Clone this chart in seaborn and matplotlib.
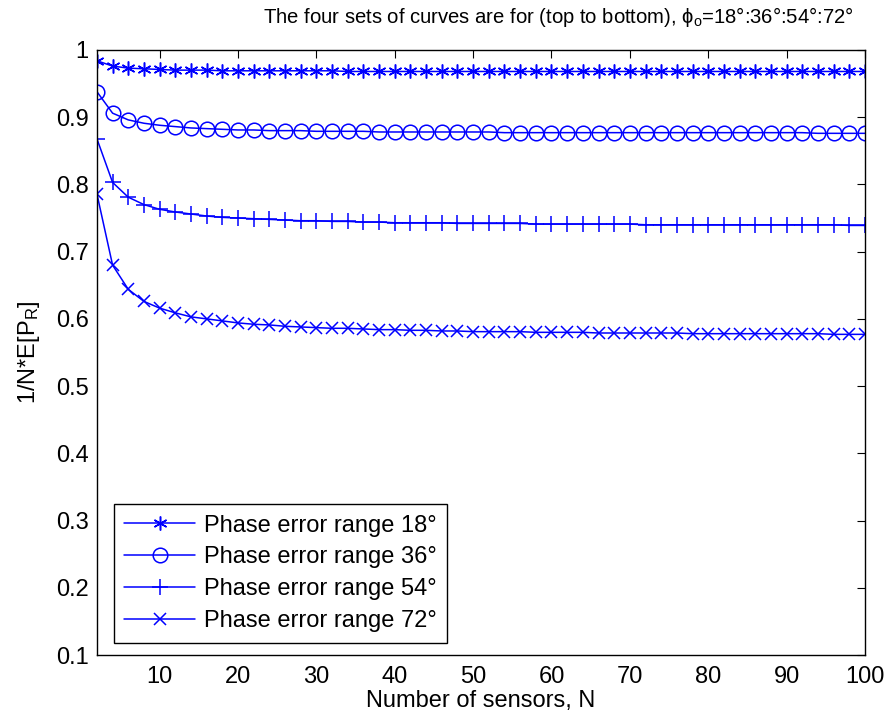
import matplotlib
matplotlib.use("Agg")
import matplotlib.pyplot as plt
import seaborn as sns
import pandas as pd

# Number of sensors N (even values 2..100)
sensors = list(range(2, 101, 2))

# Normalised expected received power 1/N*E[P_R] for each phase error range
power_18 = [0.984, 0.976, 0.973, 0.972, 0.971, 0.970, 0.970, 0.970, 0.969, 0.969,
            0.969, 0.969, 0.969, 0.969, 0.969, 0.969, 0.968, 0.968, 0.968, 0.968,
            0.968, 0.968, 0.968, 0.968, 0.968, 0.968, 0.968, 0.968, 0.968, 0.968,
            0.968, 0.968, 0.968, 0.968, 0.968, 0.968, 0.968, 0.968, 0.968, 0.968,
            0.968, 0.968, 0.968, 0.968, 0.968, 0.968, 0.968, 0.968, 0.968, 0.968]
power_36 = [0.938, 0.906, 0.896, 0.891, 0.888, 0.886, 0.884, 0.883, 0.882, 0.881,
            0.881, 0.880, 0.880, 0.880, 0.879, 0.879, 0.879, 0.879, 0.878, 0.878,
            0.878, 0.878, 0.878, 0.878, 0.878, 0.878, 0.877, 0.877, 0.877, 0.877,
            0.877, 0.877, 0.877, 0.877, 0.877, 0.877, 0.877, 0.877, 0.877, 0.877,
            0.877, 0.877, 0.877, 0.877, 0.877, 0.877, 0.876, 0.876, 0.876, 0.876]
power_54 = [0.868, 0.803, 0.781, 0.770, 0.763, 0.759, 0.756, 0.753, 0.751, 0.750,
            0.749, 0.748, 0.747, 0.746, 0.746, 0.745, 0.745, 0.744, 0.744, 0.743,
            0.743, 0.743, 0.743, 0.742, 0.742, 0.742, 0.742, 0.742, 0.741, 0.741,
            0.741, 0.741, 0.741, 0.741, 0.741, 0.740, 0.740, 0.740, 0.740, 0.740,
            0.740, 0.740, 0.740, 0.740, 0.740, 0.740, 0.740, 0.740, 0.739, 0.739]
power_72 = [0.786, 0.680, 0.644, 0.626, 0.616, 0.609, 0.603, 0.600, 0.597, 0.594,
            0.592, 0.591, 0.589, 0.588, 0.587, 0.586, 0.586, 0.585, 0.584, 0.584,
            0.583, 0.583, 0.582, 0.582, 0.581, 0.581, 0.581, 0.581, 0.580, 0.580,
            0.580, 0.580, 0.579, 0.579, 0.579, 0.579, 0.579, 0.579, 0.578, 0.578,
            0.578, 0.578, 0.578, 0.578, 0.578, 0.578, 0.578, 0.577, 0.577, 0.577]

series_labels = ["Phase error range 18°", "Phase error range 36°",
                 "Phase error range 54°", "Phase error range 72°"]
x_ticks = [10, 20, 30, 40, 50, 60, 70, 80, 90, 100]
y_ticks = [0.1, 0.2, 0.3, 0.4, 0.5, 0.6, 0.7, 0.8, 0.9, 1.0]
y_ticklabels = ["0.1", "0.2", "0.3", "0.4", "0.5", "0.6", "0.7", "0.8", "0.9", "1"]

sns.set_style("white")
plt.rcParams["font.family"] = ["Liberation Sans", "DejaVu Sans"]
plt.rcParams["mathtext.fontset"] = "custom"
plt.rcParams["mathtext.rm"] = "Liberation Sans"
plt.rcParams["mathtext.it"] = "Liberation Sans"
plt.rcParams["text.color"] = "black"
plt.rcParams["axes.labelcolor"] = "black"

FS = 17

fig = plt.figure(figsize=(8.89, 7.21), dpi=100)
ax = fig.add_axes([0.109, 0.0915, 0.864, 0.8392])

markers = [(6, 2, 0), "o", "+", "x"]
sizes = [10, 10.5, 12, 9]
for vals, lab, mk, ms in zip([power_18, power_36, power_54, power_72],
                             series_labels, markers, sizes):
    df = pd.DataFrame({"N": sensors, "P": vals})
    sns.lineplot(data=df, x="N", y="P", ax=ax, color="blue", lw=1.1,
                 marker=mk, markersize=ms, markeredgewidth=1.1,
                 markerfacecolor="none", markeredgecolor="blue", label=lab)

ax.set_xlim(2, 100)
ax.set_ylim(0.1, 1.0)
ax.set_xticks(x_ticks)
ax.set_yticks(y_ticks)
ax.set_yticklabels(y_ticklabels)
ax.tick_params(direction="in", length=6, width=0.8, top=True, right=True,
               labelsize=FS, colors="black")
ax.tick_params(axis="x", pad=8)
ax.tick_params(axis="y", pad=6)
for s in ax.spines.values():
    s.set_visible(True)
    s.set_color("black")
    s.set_linewidth(1.0)

ax.set_xlabel("Number of sensors, N", fontsize=FS, labelpad=1)
ax.set_ylabel("1/N*E[P$_\\mathregular{R}$]", fontsize=FS, labelpad=10)
fig.text(558 / 889, 1 - 17 / 721,
         "The four sets of curves are for (top to bottom), "
         "ϕ$_\\mathregular{o}$=18°:36°:54°:72°",
         fontsize=14.6, ha="center", va="center", color="black")

leg = ax.legend(loc="lower left", bbox_to_anchor=(0.022, 0.02),
                borderaxespad=0, fontsize=FS, fancybox=False, framealpha=1,
                edgecolor="black", handlelength=3.0, handletextpad=0.35,
                labelspacing=0.42, borderpad=0.45, numpoints=1)
leg.get_frame().set_linewidth(1.0)
for t in leg.get_texts():
    t.set_color("black")

fig.savefig("out.png", dpi=100, facecolor="white")
